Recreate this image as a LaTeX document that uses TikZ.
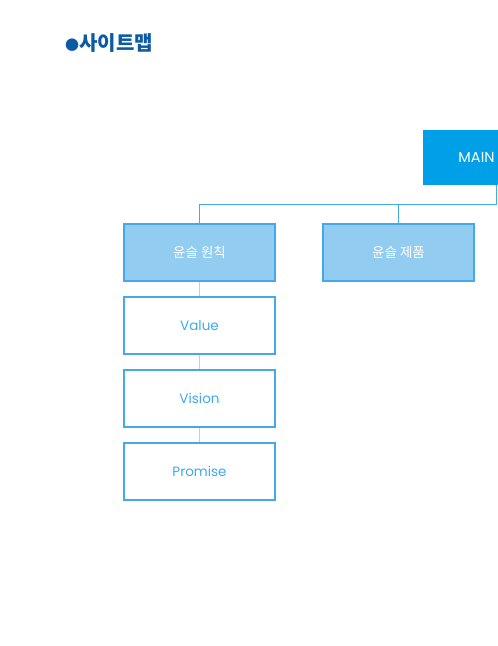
\documentclass[tikz,border=0pt]{standalone}
\usepackage{fontspec}
\setmainfont{Noto Sans CJK KR}
\newfontfamily\latinfont{Poppins}
\definecolor{titleblue}{HTML}{0B5AA6}
\definecolor{mainfill}{HTML}{00A0E9}
\definecolor{boxfill}{HTML}{92CDF1}
\definecolor{boxline}{HTML}{45A8EA}
\definecolor{textblue}{HTML}{3FA9F0}
\definecolor{thinline}{HTML}{A8D6F3}
\begin{document}
\begin{tikzpicture}[x=1pt,y=1pt,
  catbox/.style={draw=boxline, line width=1.2pt, fill=boxfill, text=white,
    minimum width=151pt, minimum height=57pt, inner sep=0pt, font=\fontsize{13.5}{15}\selectfont},
  itembox/.style={draw=boxline, line width=1.2pt, fill=white, text=textblue,
    minimum width=151pt, minimum height=57pt, inner sep=0pt, font=\latinfont\fontsize{13.5}{15}\selectfont},
  mainbox/.style={fill=mainfill, text=white, minimum width=108pt, minimum height=55pt,
    inner sep=0pt, font=\latinfont\fontsize{14.5}{16}\selectfont},
  tree/.style={draw=boxline, line width=1.1pt},
  thin/.style={draw=thinline, line width=0.8pt}]
\useasboundingbox (0,0) rectangle (498,-646);
\clip (0,0) rectangle (498,-646);
\node[anchor=west, text=titleblue, font=\fontsize{20}{22}\bfseries\selectfont, inner sep=0pt] (title) at (65,-43.5) {{\fontsize{14}{14}\selectfont ●}사이트맵};
\node[mainbox] (main) at (476.5,-157.5) {MAIN};
\node[catbox] (b1) at (199.5,-252.5) {윤슬 원칙};
\node[catbox] (b2) at (398.5,-252.5) {윤슬 제품};
\node[itembox] (v1) at (199.5,-325.5) {Value};
\node[itembox] (v2) at (199.5,-398.5) {Vision};
\node[itembox] (v3) at (199.5,-471.5) {Promise};
\coordinate (mj) at (496.5,-204.5);
\draw[tree] (main.south -| mj) -- (mj) -| (b1.north);
\draw[tree] (mj) -| (b2.north);
\draw[thin] (b1.south) -- (v1.north);
\draw[thin] (v1.south) -- (v2.north);
\draw[thin] (v2.south) -- (v3.north);
\end{tikzpicture}
\end{document}
